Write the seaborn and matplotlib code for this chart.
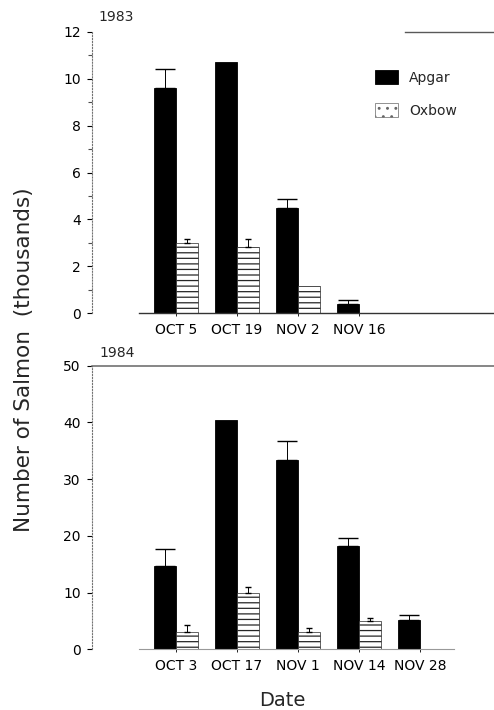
import numpy as np
import pandas as pd
import matplotlib
matplotlib.use("Agg")
import matplotlib.pyplot as plt
import seaborn as sns

# ---------------- data ----------------
sites = ["Apgar", "Oxbow"]

dates_1983 = ["OCT 5", "OCT 19", "NOV 2", "NOV 16"]
apgar_1983 = [9.6, 10.7, 4.47, 0.38]
oxbow_1983 = [2.98, 2.83, 1.17, 0.0]
apgar_err_1983 = [0.8, np.nan, 0.38, 0.2]
oxbow_err_1983 = [0.18, 0.35, np.nan, np.nan]

dates_1984 = ["OCT 3", "OCT 17", "NOV 1", "NOV 14", "NOV 28"]
apgar_1984 = [14.7, 40.4, 33.3, 18.2, 5.2]
oxbow_1984 = [3.1, 9.9, 3.0, 4.9, 0.0]
apgar_err_1984 = [3.0, np.nan, 3.5, 1.4, 0.8]
oxbow_err_1984 = [1.2, 1.1, 0.7, 0.6, np.nan]

yticks_1983 = [0, 2, 4, 6, 8, 10, 12]
yticks_1984 = [0, 10, 20, 30, 40, 50]

# ---------------- style ----------------
sns.set_theme(style="white")
plt.rcParams["font.family"] = ["DejaVu Sans"]
plt.rcParams["hatch.linewidth"] = 0.9
plt.rcParams["hatch.color"] = "black"

W, H = 494, 710
fig = plt.figure(figsize=(W / 100, H / 100), dpi=100)

XLIM = (-1.377, 5.21)


def panel(rect, dates, apgar, oxbow, a_err, o_err, yticks, ymax, minor):
    ax = fig.add_axes(rect)
    df = pd.DataFrame({
        "Date": dates * 2,
        "Site": [sites[0]] * len(dates) + [sites[1]] * len(dates),
        "Count": list(apgar) + list(oxbow),
    })
    sns.barplot(data=df, x="Date", y="Count", hue="Site", order=dates,
                hue_order=sites, palette=["black", "white"],
                edgecolor="black", linewidth=0.6, width=0.72,
                errorbar=None, legend=False, ax=ax)
    # hatch for Oxbow bars
    for p in ax.containers[1]:
        p.set_hatch("---")
        p.set_edgecolor("0.15")
        p.set_linewidth(0.5)
    # error bars (upper only)
    for cont, errs, cap in ((ax.containers[0], a_err, 7.5), (ax.containers[1], o_err, 2.5)):
        for p, e in zip(cont, errs):
            if e is None or np.isnan(e):
                continue
            xc = p.get_x() + p.get_width() / 2
            top = p.get_height()
            ax.errorbar([xc], [top], yerr=[[0], [e]], fmt="none",
                        ecolor="black", elinewidth=0.7, capsize=cap,
                        capthick=1.0)
    ax.set_xlim(*XLIM)
    ax.set_ylim(0, ymax)
    ax.set_yticks(yticks)
    ax.set_yticklabels([str(t) for t in yticks])
    if minor:
        ax.set_yticks(minor, minor=True)
    ax.set_xlabel("")
    ax.set_ylabel("")
    ax.tick_params(axis="y", which="major", left=True, length=3.5, width=0.8,
                   pad=4.5, labelsize=10, colors="black")
    ax.tick_params(axis="y", which="minor", left=True, length=3, width=0.8,
                   color="0.3")
    ax.tick_params(axis="x", bottom=True, length=2, width=0.6, pad=5,
                   labelsize=10, colors="black")
    ax.spines["right"].set_visible(False)
    ax.spines["left"].set_linestyle(":")
    ax.spines["left"].set_color("0.45")
    ax.spines["left"].set_linewidth(0.8)
    return ax


ax1 = panel([0.186, 0.559, 0.814, 0.396], dates_1983, apgar_1983, oxbow_1983,
            apgar_err_1983, oxbow_err_1983, yticks_1983, 12,
            [1, 3, 5, 7, 9, 11])
ax1.spines["bottom"].set_color("0.2")
ax1.spines["bottom"].set_linewidth(1.0)
ax1.spines["bottom"].set_bounds(-0.6, XLIM[1])
ax1.spines["top"].set_color("0.35")
ax1.spines["top"].set_linewidth(1.0)
ax1.spines["top"].set_bounds(3.75, XLIM[1])

ax2 = panel([0.186, 0.0855, 0.814, 0.3995], dates_1984, apgar_1984, oxbow_1984,
            apgar_err_1984, oxbow_err_1984, yticks_1984, 50, None)
ax2.spines["bottom"].set_color("0.6")
ax2.spines["bottom"].set_linewidth(0.8)
ax2.spines["bottom"].set_bounds(-0.6, 4.55)
ax2.spines["top"].set_color("0.4")
ax2.spines["top"].set_linewidth(1.1)

# legend
leg = ax1.legend([ax1.containers[0][0], ax1.containers[1][0]], sites,
                 loc="upper left", bbox_to_anchor=(0.69, 0.885),
                 frameon=False, fontsize=10, handlelength=1.65,
                 handleheight=1.2, handletextpad=0.8, labelspacing=1.3,
                 borderaxespad=0)
leg.legend_handles[1].set_hatch("..")
leg.legend_handles[1].set_edgecolor("0.4")

# year labels and axis titles
fig.text(98 / W, 1 - 17 / H, "1983", fontsize=10, ha="left", va="center")
fig.text(99 / W, 1 - 353 / H, "1984", fontsize=10, ha="left", va="center")
fig.text(282 / W, 1 - 701 / H, "Date", fontsize=14, ha="center", va="center")
fig.text(24 / W, 1 - 360 / H, "Number of Salmon  (thousands)", fontsize=15.5,
         rotation=90, ha="center", va="center")

fig.savefig("out.png", dpi=100, facecolor="white")
